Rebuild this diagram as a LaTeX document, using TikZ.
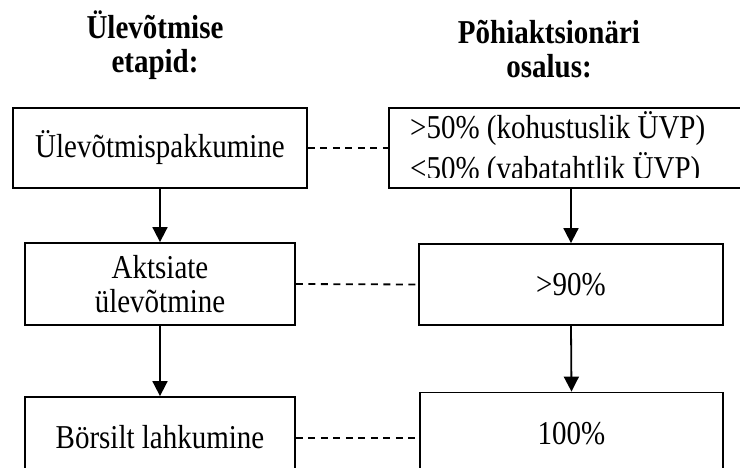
\documentclass[tikz,border=0pt]{standalone}
\usepackage{fontspec}
\usepackage{graphicx}
\setmainfont{Liberation Serif}
\usetikzlibrary{arrows.meta}
\newcommand{\tallt}[1]{\scalebox{1}[1.15]{#1}}
\begin{document}
\begin{tikzpicture}[x=1pt,y=-1pt,
  box/.style={draw,line width=1.8pt,inner sep=0pt,font=\fontsize{29}{34}\selectfont,align=center},
  plain/.style={inner sep=0pt,font=\fontsize{29}{33}\selectfont},
  arr/.style={line width=1.8pt,-{Triangle[width=15pt,length=15pt]}},
  dashline/.style={line width=1.8pt,dash pattern=on 7pt off 5.5pt},
  title/.style={inner sep=0pt,anchor=base,font=\fontsize{29}{35}\selectfont\bfseries}]
\useasboundingbox (0,0) rectangle (740,468);

% titles
\node[title] (t1a) at (155,39) {\tallt{Ülevõtmise}};
\node[title] (t1b) at (155,73) {\tallt{etapid:}};
\node[title] (t2a) at (549,44) {\tallt{Põhiaktsionäri}};
\node[title] (t2b) at (549,78) {\tallt{osalus:}};

% left column
\node[box,minimum width=294pt,minimum height=80pt] (a1) at (160,148) {\tallt{Ülevõtmispakkumine}};
\node[box,minimum width=270pt,minimum height=82pt] (a2) at (160,284) {\tallt{Aktsiate}\\\tallt{ülevõtmine}};
\node[box,minimum width=270pt,minimum height=80pt] (a3) at (160,437) {\tallt{Börsilt lahkumine}};

% right column
\node[box,minimum width=371pt,minimum height=80pt] (b1) at (574.5,148) {};
\begin{scope}
  \clip (389,100) rectangle (745,177.5);
  \node[plain,anchor=base west] (b1l1) at (410,139) {\tallt{>50\% (kohustuslik ÜVP)}};
  \node[plain,anchor=base west] (b1l2) at (410,180) {\tallt{<50\% (vabatahtlik ÜVP)}};
\end{scope}
\node[box,minimum width=304pt,minimum height=81pt] (b2) at (571,284.5) {\tallt{>90\%}};
\node[box,minimum width=303pt,minimum height=83pt] (b3) at (571.5,434) {\tallt{100\%}};

% arrows
\draw[arr] (a1.south) -- (a2.north);
\draw[arr] (a2.south) -- (a3.north);
\draw[arr] (b1.south -| b2.north) -- (b2.north);
\draw[arr] (b2.south) -- (b3.north);

% dashed links
\draw[dashline] (a1.east) -- (b1.west);
\draw[dashline] (a2.east) -- (b2.west);
\draw[dashline] ([yshift=-1pt]a3.east) -- ([yshift=-1pt]b3.west |- a3.east);
\end{tikzpicture}
\end{document}
